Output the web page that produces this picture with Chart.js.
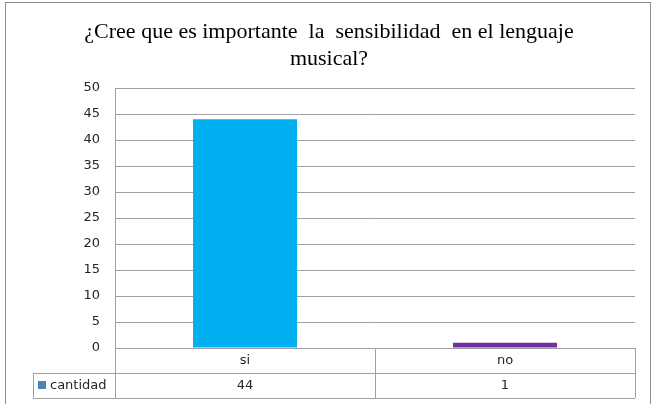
<!DOCTYPE html>
<html>
<head>
<meta charset="utf-8">
<script src="https://cdn.jsdelivr.net/npm/chart.js@4"></script>
<style>
html,body{margin:0;padding:0;background:#fff;}
#wrap{width:653px;height:404px;position:relative;}
</style>
</head>
<body>
<div id="wrap"><canvas id="c" width="653" height="404"></canvas></div>
<script>
const titleLines = ['¿Cree que es importante  la  sensibilidad  en el lenguaje', 'musical?'];
const categories = ['si', 'no'];
const seriesName = 'cantidad';
const values = [44, 1];
const barColors = ['#00B0F0', '#7030A0'];
const legendColor = '#4F81BD';
const yMin = 0, yMax = 50, yStep = 5;

const gridColor = '#A0A0A0';
const textColor = '#262626';

const framePlugin = {
  id: 'frame',
  beforeDraw(chart) {
    const ctx = chart.ctx;
    ctx.save();
    ctx.fillStyle = '#fff';
    ctx.fillRect(0, 0, chart.width, chart.height);
    ctx.strokeStyle = '#8C8C8C';
    ctx.lineWidth = 1;
    ctx.strokeRect(5.5, 2.5, 645, 420);
    // title
    ctx.fillStyle = '#000';
    ctx.font = '22px "Liberation Serif", "Times New Roman", serif';
    ctx.textAlign = 'center';
    ctx.textBaseline = 'alphabetic';
    ctx.fillText(titleLines[0], 329, 38);
    ctx.fillText(titleLines[1], 329, 65);
    ctx.restore();
  },
  afterDraw(chart) {
    const ctx = chart.ctx;
    const xs = chart.scales.x;
    const area = chart.chartArea;
    const n = categories.length;
    const half = (xs.getPixelForValue(1) - xs.getPixelForValue(0)) / 2;
    const left = area.left, right = area.right;
    const r0 = area.bottom, r1 = r0 + 25, r2 = r1 + 25;
    const labelLeft = 33;
    ctx.save();
    ctx.strokeStyle = gridColor;
    ctx.lineWidth = 1;
    ctx.beginPath();
    ctx.moveTo(left, r0 + 0.5); ctx.lineTo(right, r0 + 0.5);
    ctx.moveTo(labelLeft, r1 + 0.5); ctx.lineTo(right, r1 + 0.5);
    ctx.moveTo(labelLeft, r2 + 0.5); ctx.lineTo(right, r2 + 0.5);
    ctx.moveTo(labelLeft + 0.5, r1); ctx.lineTo(labelLeft + 0.5, r2);
    for (let i = 0; i <= n; i++) {
      const x = Math.round(i < n ? xs.getPixelForValue(i) - half : xs.getPixelForValue(n - 1) + half) + 0.5;
      ctx.moveTo(x, r0); ctx.lineTo(x, r2);
    }
    ctx.stroke();
    ctx.fillStyle = textColor;
    ctx.font = '13px "DejaVu Sans", Verdana, sans-serif';
    ctx.textAlign = 'center';
    ctx.textBaseline = 'middle';
    for (let i = 0; i < n; i++) {
      const x = xs.getPixelForValue(i);
      ctx.fillText(categories[i], x, r0 + 13);
      ctx.fillText(String(values[i]), x, r1 + 13);
    }
    ctx.textAlign = 'left';
    ctx.fillText(seriesName, 50, r1 + 13);
    ctx.fillStyle = legendColor;
    ctx.fillRect(38, r1 + 8, 8, 8);
    ctx.restore();
  }
};

new Chart(document.getElementById('c'), {
  type: 'bar',
  data: {
    labels: categories,
    datasets: [{
      label: seriesName,
      data: values,
      backgroundColor: barColors,
      borderWidth: 0,
      categoryPercentage: 1.0,
      barPercentage: 0.4
    }]
  },
  options: {
    responsive: false,
    animation: false,
    devicePixelRatio: 1,
    layout: { padding: { left: 0, right: 18, top: 88, bottom: 56 } },
    plugins: {
      legend: { display: false },
      title: { display: false },
      tooltip: { enabled: false }
    },
    scales: {
      x: {
        ticks: { display: false },
        grid: { display: false, drawTicks: false },
        border: { display: false },
        afterFit(s) { s.height = 0; }
      },
      y: {
        min: yMin, max: yMax,
        ticks: {
          stepSize: yStep,
          padding: 15,
          color: textColor,
          font: { family: '"DejaVu Sans", Verdana, sans-serif', size: 13 }
        },
        grid: { color: gridColor, drawTicks: false, lineWidth: 1 },
        border: { display: true, color: gridColor },
        afterFit(s) { s.width = 115; }
      }
    }
  },
  plugins: [framePlugin]
});
</script>
</body>
</html>
